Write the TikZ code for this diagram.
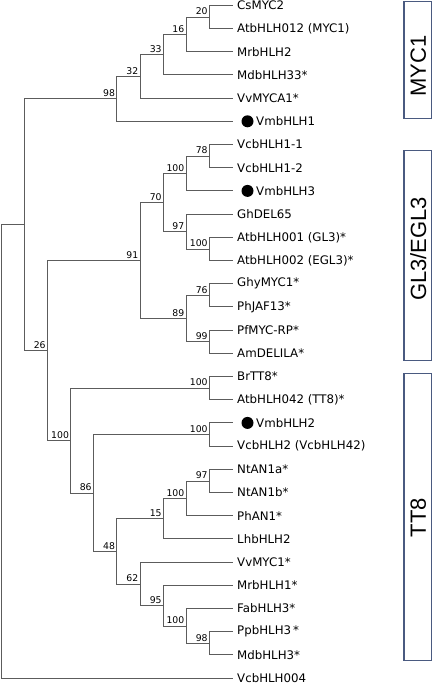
\documentclass[tikz,border=0pt]{standalone}
\usepackage{fontspec}
\setmainfont{DejaVu Sans}
\newfontfamily\cladefont{Liberation Sans}
\usepackage{tikz}
\usetikzlibrary{positioning}
\usepackage{xcolor}
\definecolor{cBranch}{HTML}{5C5C5C}
\definecolor{cBox}{HTML}{4A5A80}
\newcommand{\dotgap}{\hspace{19pt}}

\begin{document}
\begin{tikzpicture}[
  x=1pt, y=-1pt,
  branch/.style={draw=cBranch, line width=0.9pt},
  leaf/.style={anchor=west, inner xsep=4pt, inner ysep=0pt,
               font=\fontsize{11.8}{13}\selectfont},
  boot/.style={anchor=south east, inner sep=0pt, xshift=-1.5pt, yshift=2pt,
               font=\fontsize{9.3}{10}\selectfont},
  vdot/.style={circle, fill=black, inner sep=0pt, minimum size=12pt},
  clade/.style={rectangle, draw=cBox, line width=1.3pt, inner sep=0pt,
                minimum width=27.7pt},
  cladetext/.style={rotate=90, inner sep=0pt,
                    font=\cladefont\fontsize{22}{24}\selectfont},
]
\useasboundingbox (0,0) rectangle (434,685);

% leaves
\foreach \i/\t in {1/CsMYC2, 2/AtbHLH012 (MYC1), 3/MrbHLH2, 4/MdbHLH33*,
  5/VvMYCA1*, 6/\dotgap VmbHLH1, 7/VcbHLH1-1, 8/VcbHLH1-2, 9/\dotgap VmbHLH3,
  10/GhDEL65, 11/AtbHLH001 (GL3)*, 12/AtbHLH002 (EGL3)*, 13/GhyMYC1*,
  14/PhJAF13*, 15/PfMYC-RP*, 16/AmDELILA*, 17/BrTT8*, 18/AtbHLH042 (TT8)*,
  19/\dotgap VmbHLH2, 20/VcbHLH2 (VcbHLH42), 21/NtAN1a*, 22/NtAN1b*,
  23/PhAN1*, 24/LhbHLH2, 25/VvMYC1*, 26/MrbHLH1*, 27/FabHLH3*,
  28/PpbHLH3\,*, 29/MdbHLH3*, 30/VcbHLH004}
  \node[leaf] (l\i) at (233, {5.3+23.2*(\i-1)}) {\t};

\node[vdot] (d6)  at ([xshift=14.5pt]l6.west)  {};
\node[vdot] (d9)  at ([xshift=14.5pt]l9.west)  {};
\node[vdot] (d19) at ([xshift=14.5pt]l19.west) {};

% inner nodes
\coordinate (n20)  at (209.3, 17.0);
\coordinate (n16)  at (186,   34.4);
\coordinate (n33)  at (163.3, 54.7);
\coordinate (n32)  at (140,   76.4);
\coordinate (n98)  at (116.7, 98.9);
\coordinate (n78)  at (209.3, 156.1);
\coordinate (n100a) at (186,  173.5);
\coordinate (n100b) at (209.3, 249.0);
\coordinate (n97)  at (186,   231.6);
\coordinate (n70)  at (163.3, 202.6);
\coordinate (n76)  at (209.3, 295.5);
\coordinate (n99)  at (209.3, 341.9);
\coordinate (n89)  at (186,   318.7);
\coordinate (n91)  at (140,   260.6);
\coordinate (n100c) at (209.3, 388.3);
\coordinate (n100d) at (209.3, 434.7);
\coordinate (n97b) at (209.3, 481.1);
\coordinate (n100e) at (186,  498.5);
\coordinate (n15)  at (163.3, 518.8);
\coordinate (n98b) at (209.3, 643.5);
\coordinate (n100f) at (186,  626.1);
\coordinate (n95)  at (163.3, 605.8);
\coordinate (n62)  at (140,   584.1);
\coordinate (n48)  at (116.7, 551.4);
\coordinate (n86)  at (93.3,  493.1);
\coordinate (n100g) at (70.7, 440.7);
\coordinate (n26)  at (47.3,  350.6);
\coordinate (nA)   at (24,    224.8);
\coordinate (root) at (1.7,   451.2);

\foreach \p/\c in {n20/l1.west, n20/l2.west, n16/n20, n16/l3.west,
  n33/n16, n33/l4.west, n32/n33, n32/l5.west, n98/n32, n98/l6.west,
  n78/l7.west, n78/l8.west, n100a/n78, n100a/l9.west,
  n100b/l11.west, n100b/l12.west, n97/l10.west, n97/n100b,
  n70/n100a, n70/n97, n76/l13.west, n76/l14.west, n99/l15.west,
  n99/l16.west, n89/n76, n89/n99, n91/n70, n91/n89,
  n100c/l17.west, n100c/l18.west, n100d/l19.west, n100d/l20.west,
  n97b/l21.west, n97b/l22.west, n100e/n97b, n100e/l23.west,
  n15/n100e, n15/l24.west, n98b/l28.west, n98b/l29.west,
  n100f/l27.west, n100f/n98b, n95/l26.west, n95/n100f,
  n62/l25.west, n62/n95, n48/n15, n48/n62, n86/n100d, n86/n48,
  n100g/n100c, n100g/n86, n26/n91, n26/n100g, nA/n98, nA/n26,
  root/nA, root/l30.west}
  \draw[branch] (\p) |- (\c);

% bootstrap values
\foreach \n/\v in {n20/20, n16/16, n33/33, n32/32, n98/98, n78/78,
  n100a/100, n100b/100, n97/97, n70/70, n76/76, n99/99, n89/89, n91/91,
  n100c/100, n100d/100, n97b/97, n100e/100, n15/15, n98b/98, n100f/100,
  n95/95, n62/62, n48/48, n86/86, n100g/100, n26/26}
  \node[boot] (b\n) at (\n) {\v};

% clades
\node[clade, minimum height=116.6pt] (myc1) at (417.85, 60.0) {};
\node[clade, minimum height=209.8pt] (gl3)  at (417.85, 255.6) {};
\node[clade, minimum height=287.2pt] (tt8)  at (417.85, 516.9) {};
\node[cladetext] (tmyc1) at (418.3, 66) {MYC1};
\node[cladetext] (tgl3)  at (418.3, 249) {GL3/EGL3};
\node[cladetext] (ttt8)  at (418.3, 517.5) {TT8};
\end{tikzpicture}
\end{document}
